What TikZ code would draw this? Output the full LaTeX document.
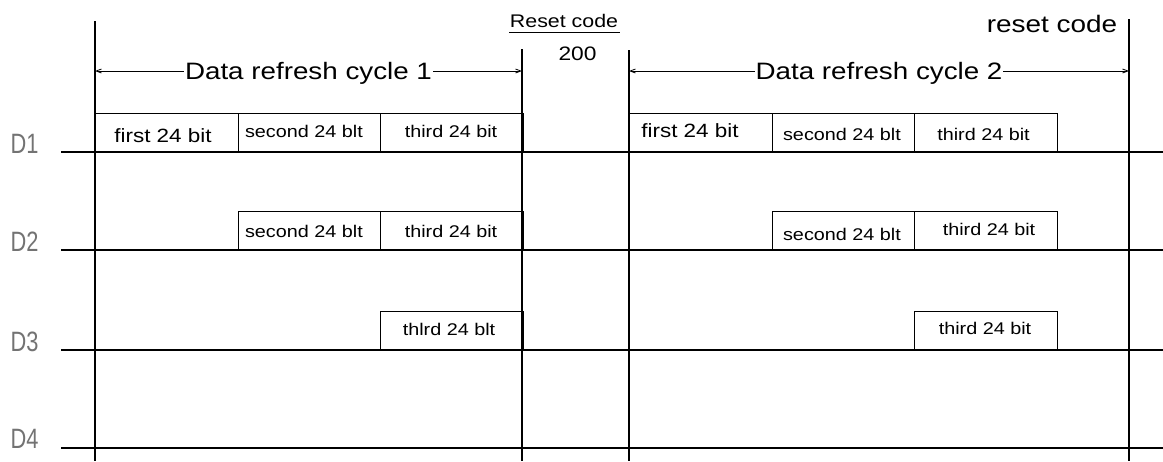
\documentclass[tikz,border=0pt]{standalone}
\usepackage{fontspec}
\setmainfont{Liberation Sans}
\usetikzlibrary{arrows.meta}
\newcommand{\hx}[1]{\scalebox{1.17}[1]{#1}}
\newcommand{\dx}[1]{\scalebox{0.78}[1]{#1}}
\begin{document}
\begin{tikzpicture}[x=0.75pt,y=-0.75pt,
  line width=0.9pt,
  bitbox/.style={draw, rectangle, anchor=south west, minimum width=142.5*0.75pt, minimum height=38*0.75pt, inner sep=0pt},
  bigbit/.style={anchor=base, inner sep=0pt, font=\fontsize{14.4}{16}\selectfont},
  smallbit/.style={anchor=base, inner sep=0pt, font=\fontsize{12.7}{14}\selectfont},
  lane/.style={font=\fontsize{21}{24}\selectfont, text=black!55, anchor=base west, inner sep=0pt},
  title/.style={font=\fontsize{17.8}{20}\selectfont, fill=white, inner xsep=0.5pt, inner ysep=1pt, anchor=base},
  dim/.style={{Straight Barb[length=4pt,width=3pt]}-{Straight Barb[length=4pt,width=3pt]}, line width=0.6pt}
]
\useasboundingbox (0,0) rectangle (1163,461);
% vertical lines
\coordinate (v1t) at (95,21);   \coordinate (v1b) at (95,461);
\coordinate (v2t) at (522,49);  \coordinate (v2b) at (522,461);
\coordinate (v3t) at (629,50);  \coordinate (v3b) at (629,461);
\coordinate (v4t) at (1129,19); \coordinate (v4b) at (1129,461);
\draw (v1t) -- (v1b);
\draw (v2t) -- (v2b);
\draw (v3t) -- (v3b);
\draw (v4t) -- (v4b);
% lane lines
\coordinate (l1a) at (61,152); \coordinate (l1b) at (1163,152);
\coordinate (l2a) at (61,250); \coordinate (l2b) at (1163,250);
\coordinate (l3a) at (61,350); \coordinate (l3b) at (1163,350);
\coordinate (l4a) at (61,448); \coordinate (l4b) at (1163,448);
\draw (l1a) -- (l1b);
\draw (l2a) -- (l2b);
\draw (l3a) -- (l3b);
\draw (l4a) -- (l4b);
\node[lane] (D1) at (10,153) {\dx{D1}};
\node[lane] (D2) at (10,251) {\dx{D2}};
\node[lane] (D3) at (10,351) {\dx{D3}};
\node[lane] (D4) at (10,448) {\dx{D4}};
% cycle 1 boxes
\node[bitbox] (a11) at (95,152) {};
\node[bitbox] (a12) at (237.5,152) {};
\node[bitbox] (a13) at (380,152) {};
\node[bitbox] (a22) at (237.5,250) {};
\node[bitbox] (a23) at (380,250) {};
\node[bitbox] (a33) at (380,350) {};
% cycle 2 boxes
\node[bitbox] (b11) at (629,152) {};
\node[bitbox] (b12) at (771.5,152) {};
\node[bitbox] (b13) at (914,152) {};
\node[bitbox] (b22) at (771.5,250) {};
\node[bitbox] (b23) at (914,250) {};
\node[bitbox] (b33) at (914,350) {};
% box texts
\node[bigbit] (ta11) at (163,142) {\hx{first 24 bit}};
\node[smallbit] (ta12) at (304,137) {\hx{second 24 blt}};
\node[smallbit] (ta13) at (451,137) {\hx{third 24 bit}};
\node[smallbit] (ta22) at (304,237) {\hx{second 24 blt}};
\node[smallbit] (ta23) at (451,237) {\hx{third 24 bit}};
\node[smallbit] (ta33) at (449,335) {\hx{thlrd 24 blt}};
\node[bigbit] (tb11) at (690,137) {\hx{first 24 bit}};
\node[smallbit] (tb12) at (842,140) {\hx{second 24 blt}};
\node[smallbit] (tb13) at (983.5,140) {\hx{third 24 bit}};
\node[smallbit] (tb22) at (842,240) {\hx{second 24 blt}};
\node[smallbit] (tb23) at (989,235) {\hx{third 24 bit}};
\node[smallbit] (tb33) at (985,334) {\hx{third 24 bit}};
% cycle dimension arrows
\coordinate (c1l) at (95,71); \coordinate (c1r) at (522,71);
\coordinate (c2l) at (629,71); \coordinate (c2r) at (1129,71);
\draw[dim] (c1l) -- (c1r);
\draw[dim] (c2l) -- (c2r);
\node[title] (t1) at (308.5,79) {\hx{Data refresh cycle 1}};
\node[title] (t2) at (879,79) {\hx{Data refresh cycle 2}};
% reset codes
\node[font=\fontsize{13.7}{15}\selectfont, anchor=base, inner sep=0pt] (rc) at (564,27) {\hx{Reset code}};
\coordinate (u1) at (509,32); \coordinate (u2) at (620,32);
\draw[line width=0.7pt] (u1) -- (u2);
\node[font=\fontsize{14.6}{16}\selectfont, anchor=base, inner sep=0pt] (n200) at (577.5,60) {\hx{200}};
\node[font=\fontsize{17.9}{20}\selectfont, anchor=base, inner sep=0pt] (rc2) at (1052,32) {\hx{reset code}};
\end{tikzpicture}
\end{document}
